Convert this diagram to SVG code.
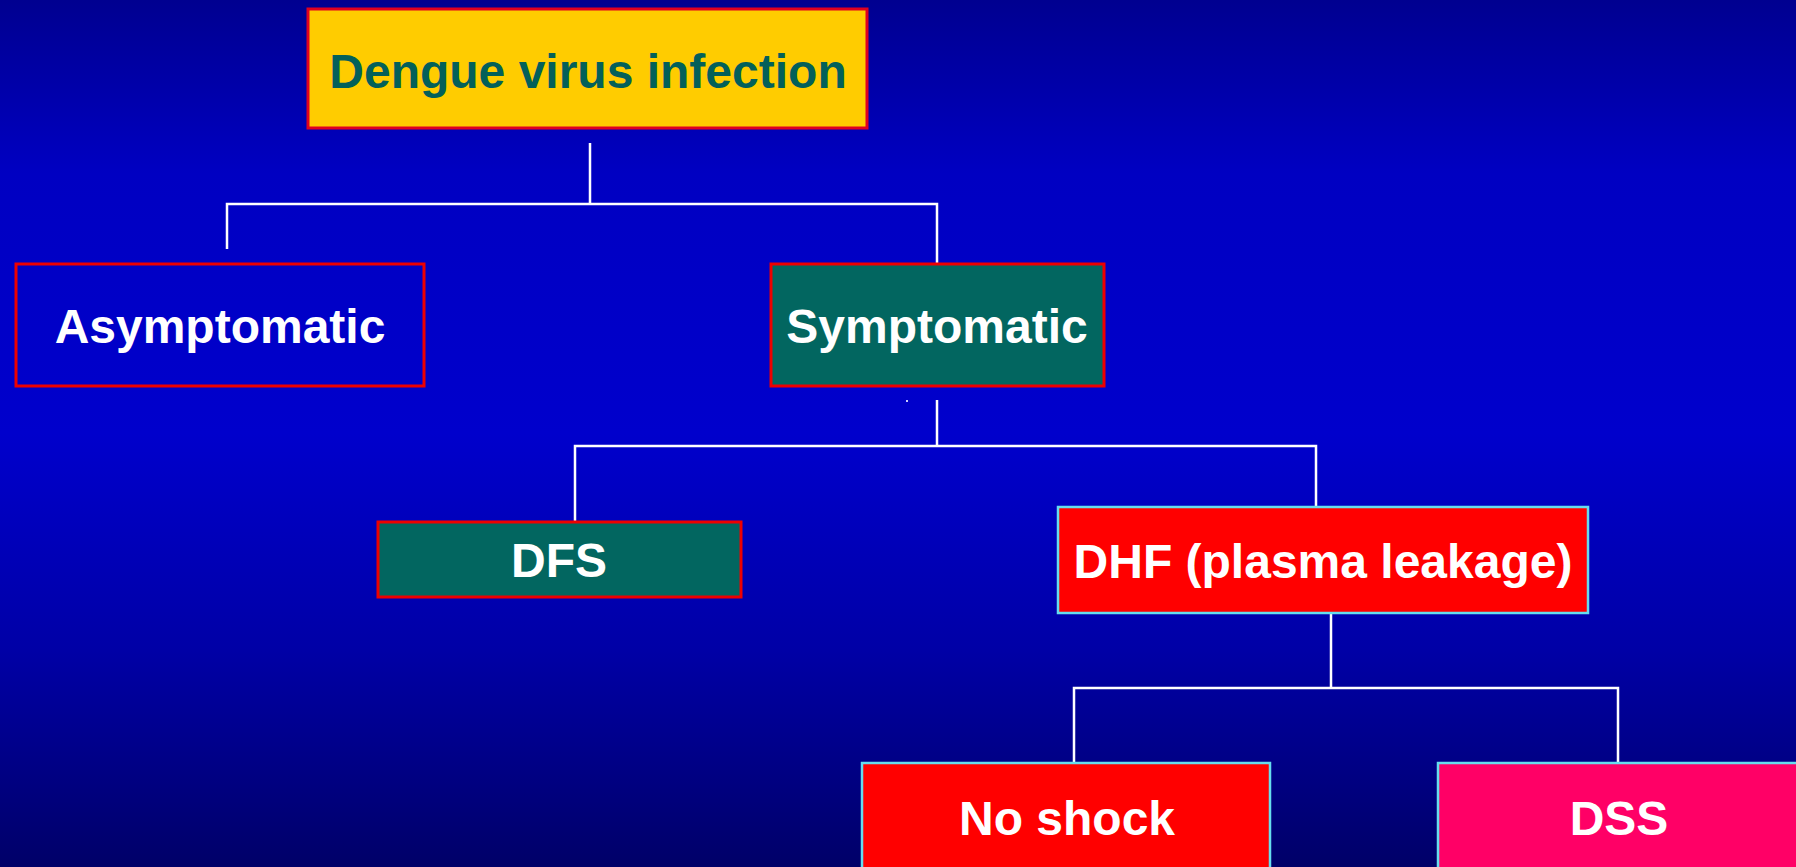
<svg xmlns="http://www.w3.org/2000/svg" width="1796" height="867" viewBox="0 0 1796 867">
  <defs>
    <linearGradient id="bg" x1="0" y1="0" x2="0" y2="1">
      <stop offset="0" stop-color="#000090"/>
      <stop offset="0.2" stop-color="#0000C2"/>
      <stop offset="0.5" stop-color="#0000CC"/>
      <stop offset="0.75" stop-color="#0000A6"/>
      <stop offset="1" stop-color="#000068"/>
    </linearGradient>
    <style>
      .lbl { font-family: "Liberation Sans", Arial, sans-serif; font-weight: bold; font-size: 48px; text-anchor: middle; fill: #FFFFFF; }
      .conn { stroke: #FFFFFF; stroke-width: 2.5; fill: none; }
      .redb { stroke: #EE0000; stroke-width: 3; }
      .cyanb { stroke: #66DDEE; stroke-width: 2.5; }
    </style>
  </defs>
  <rect x="0" y="0" width="1796" height="867" fill="url(#bg)"/>

  <g id="connectors">
    <path class="conn" d="M590 143 V204 M227 249 V204 H937 V264"/>
    <path class="conn" d="M937 400 V446 M575 521 V446 H1316 V507"/>
    <path class="conn" d="M1331 613 V688 M1074 763 V688 H1618 V763"/>
    <rect x="906" y="400" width="2" height="2" fill="#CCCCFF"/>
  </g>

  <g id="node-dengue">
    <rect x="308" y="9" width="559" height="119" fill="#FFCC00" stroke="#E00020" stroke-width="3"/>
    <text class="lbl" x="588" y="88" fill="#006060" style="fill:#03605A">Dengue virus infection</text>
  </g>

  <g id="node-asymptomatic">
    <rect x="16" y="264" width="408" height="122" fill="none" class="redb"/>
    <text class="lbl" x="220" y="343">Asymptomatic</text>
  </g>

  <g id="node-symptomatic">
    <rect x="771" y="264" width="333" height="122" fill="#026660" class="redb"/>
    <text class="lbl" x="937" y="343">Symptomatic</text>
  </g>

  <g id="node-dfs">
    <rect x="378" y="522" width="363" height="75" fill="#026660" class="redb"/>
    <text class="lbl" x="559" y="577">DFS</text>
  </g>

  <g id="node-dhf">
    <rect x="1058" y="507" width="530" height="106" fill="#FF0000" class="cyanb"/>
    <text class="lbl" x="1323" y="578">DHF (plasma leakage)</text>
  </g>

  <g id="node-noshock">
    <rect x="862" y="763" width="408" height="120" fill="#FF0000" class="cyanb"/>
    <text class="lbl" x="1067" y="835">No shock</text>
  </g>

  <g id="node-dss">
    <rect x="1438" y="763" width="380" height="120" fill="#FF0066" class="cyanb"/>
    <text class="lbl" x="1619" y="835">DSS</text>
  </g>
</svg>
